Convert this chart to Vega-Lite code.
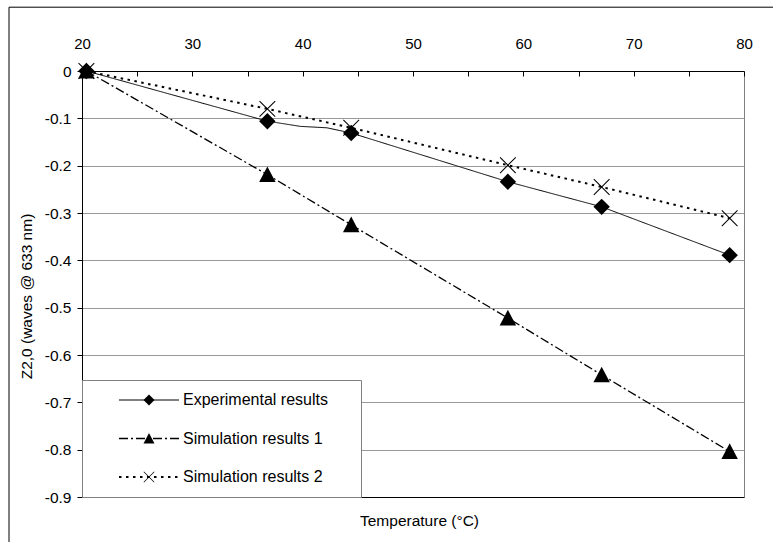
{
  "$schema": "https://vega.github.io/schema/vega-lite/v6.json",
  "autosize": "none",
  "width": 662,
  "height": 426,
  "padding": {"left": 82, "top": 71, "right": 29, "bottom": 45},
  "background": "white",
  "config": {"view": {"stroke": null}, "font": "Liberation Sans"},
  "datasets": {
    "markers": [
      {"series": "Experimental results", "temp": 20.4, "value": 0},
      {"series": "Experimental results", "temp": 36.8, "value": -0.106},
      {"series": "Experimental results", "temp": 44.4, "value": -0.131},
      {"series": "Experimental results", "temp": 58.6, "value": -0.234},
      {"series": "Experimental results", "temp": 67.1, "value": -0.287},
      {"series": "Experimental results", "temp": 78.7, "value": -0.389},
      {"series": "Simulation results 1", "temp": 20.4, "value": 0},
      {"series": "Simulation results 1", "temp": 36.8, "value": -0.219},
      {"series": "Simulation results 1", "temp": 44.4, "value": -0.325},
      {"series": "Simulation results 1", "temp": 58.6, "value": -0.522},
      {"series": "Simulation results 1", "temp": 67.1, "value": -0.642},
      {"series": "Simulation results 1", "temp": 78.7, "value": -0.804},
      {"series": "Simulation results 2", "temp": 20.4, "value": 0},
      {"series": "Simulation results 2", "temp": 36.8, "value": -0.080},
      {"series": "Simulation results 2", "temp": 44.4, "value": -0.120},
      {"series": "Simulation results 2", "temp": 58.6, "value": -0.199},
      {"series": "Simulation results 2", "temp": 67.1, "value": -0.245},
      {"series": "Simulation results 2", "temp": 78.7, "value": -0.311}
    ],
    "curves": [
      {"series": "Experimental results", "temp": 20.4, "value": 0},
      {"series": "Experimental results", "temp": 36.8, "value": -0.106},
      {"series": "Experimental results", "temp": 39.8, "value": -0.117},
      {"series": "Experimental results", "temp": 42.2, "value": -0.120},
      {"series": "Experimental results", "temp": 44.4, "value": -0.131},
      {"series": "Experimental results", "temp": 58.6, "value": -0.234},
      {"series": "Experimental results", "temp": 67.1, "value": -0.287},
      {"series": "Experimental results", "temp": 78.7, "value": -0.389},
      {"series": "Simulation results 1", "temp": 20.4, "value": 0},
      {"series": "Simulation results 1", "temp": 36.8, "value": -0.219},
      {"series": "Simulation results 1", "temp": 44.4, "value": -0.325},
      {"series": "Simulation results 1", "temp": 58.6, "value": -0.522},
      {"series": "Simulation results 1", "temp": 67.1, "value": -0.642},
      {"series": "Simulation results 1", "temp": 78.7, "value": -0.804},
      {"series": "Simulation results 2", "temp": 20.4, "value": 0},
      {"series": "Simulation results 2", "temp": 36.8, "value": -0.080},
      {"series": "Simulation results 2", "temp": 44.4, "value": -0.120},
      {"series": "Simulation results 2", "temp": 58.6, "value": -0.199},
      {"series": "Simulation results 2", "temp": 67.1, "value": -0.245},
      {"series": "Simulation results 2", "temp": 78.7, "value": -0.311}
    ]
  },
  "resolve": {"axis": {"x": "independent"}},
  "layer": [
    {
      "data": {"name": "curves"},
      "mark": {"type": "line", "color": "black", "clip": false},
      "encoding": {
        "x": {
          "field": "temp", "type": "quantitative",
          "scale": {"domain": [20, 80], "nice": false, "zero": false},
          "axis": {
            "orient": "top", "title": null,
            "values": [20, 25, 30, 35, 40, 45, 50, 55, 60, 65, 70, 75, 80],
            "labelExpr": "datum.value % 10 == 0 ? datum.label : ''",
            "labelFontSize": 15, "labelColor": "black", "labelFont": "Liberation Sans",
            "labelPadding": 25, "labelOverlap": false, "labelFlush": false,
            "tickSize": -5, "tickColor": "black", "domainColor": "black",
            "grid": true, "gridColor": "#808080",
            "gridOpacity": {"condition": {"test": "datum.value == 80", "value": 1}, "value": 0}
          }
        },
        "y": {
          "field": "value", "type": "quantitative",
          "scale": {"domain": [-0.9, 0], "nice": false, "zero": false},
          "axis": {
            "title": "Z2,0 (waves @ 633 nm)",
            "values": [0, -0.05, -0.1, -0.15, -0.2, -0.25, -0.3, -0.35, -0.4, -0.45, -0.5, -0.55, -0.6, -0.65, -0.7, -0.75, -0.8, -0.85, -0.9],
            "labelExpr": "abs(round(datum.value*100)) % 10 == 0 ? (datum.value == 0 ? '0' : '-' + format(abs(datum.value), '.1f')) : ''",
            "labelFontSize": 15.5, "labelColor": "black", "labelFont": "Liberation Sans",
            "labelPadding": 6, "labelOverlap": false, "labelFlush": false,
            "tickSize": 5, "tickColor": "black", "domainColor": "black",
            "grid": true, "gridColor": "#999999",
            "gridOpacity": {"condition": {"test": "abs(round(datum.value*100)) % 10 == 0 && datum.value < 0 && datum.value > -0.89", "value": 1}, "value": 0},
            "titleFontSize": 15.5, "titleFontWeight": "normal", "titleColor": "black", "titleFont": "Liberation Sans",
            "titlePadding": 10, "titleY": 225
          }
        },
        "strokeDash": {
          "field": "series", "type": "nominal",
          "scale": {"domain": ["Experimental results", "Simulation results 1", "Simulation results 2"], "range": [[1, 0], [9, 3, 2, 3], [2.5, 4.5]]},
          "legend": {
            "orient": "none", "legendX": 0, "legendY": 309,
            "title": "\u00a0", "titleOrient": "right", "titlePadding": 21, "titleFontSize": 16,
            "padding": 12, "strokeColor": "#808080", "fillColor": "white",
            "symbolType": "stroke", "symbolSize": 3600, "symbolStrokeColor": "black", "symbolStrokeWidth": 1,
            "symbolOffset": 24, "labelOffset": 3, "labelFontSize": 16, "labelColor": "black", "labelFont": "Liberation Sans",
            "clipHeight": 16, "rowPadding": 22.5, "labelLimit": 300
          }
        },
        "strokeWidth": {
          "field": "series", "type": "nominal",
          "scale": {"type": "ordinal", "domain": ["Experimental results", "Simulation results 1", "Simulation results 2"], "range": [1, 1.3, 2]},
          "legend": null
        }
      }
    },
    {
      "data": {"name": "markers"},
      "mark": {"type": "point", "filled": true, "fill": "black", "strokeWidth": 0, "size": 270, "opacity": 1, "clip": false},
      "encoding": {
        "x": {
          "field": "temp", "type": "quantitative",
          "axis": {
            "orient": "bottom", "title": "Temperature (°C)", "labels": false, "ticks": false,
            "domain": true, "domainColor": "black", "grid": false,
            "titleFontSize": 15.5, "titleFontWeight": "normal", "titleColor": "black", "titleFont": "Liberation Sans",
            "titlePadding": 16, "titleX": 337
          }
        },
        "y": {"field": "value", "type": "quantitative"},
        "shape": {
          "field": "series", "type": "nominal",
          "scale": {"range": ["M0,-1L1,0L0,1L-1,0Z", "M0,-1L1,0.9L-1,0.9Z", "M-1,-0.91L-0.91,-1L1,0.91L0.91,1Z M-1,0.91L0.91,-1L1,-0.91L-0.91,1Z"]},
          "legend": {
            "orient": "none", "legendX": 0, "legendY": 309, "title": null,
            "padding": 12, "symbolSize": 120, "symbolFillColor": "black", "symbolStrokeWidth": 0,
            "symbolOffset": 47, "labelFontSize": 16, "labelExpr": "''", "labelOpacity": 0, "clipHeight": 16, "rowPadding": 22.5,
            "encode": {"symbols": {"fill": {"value": "black"}, "opacity": {"value": 1}}}
          }
        }
      }
    },
    {
      "data": {"name": "markers"},
      "mark": {"type": "point", "opacity": 0},
      "encoding": {
        "x": {"field": "temp", "type": "quantitative", "axis": null},
        "y": {"field": "value", "type": "quantitative"},
        "size": {
          "field": "value", "type": "quantitative",
          "legend": {
            "orient": "none", "legendX": -73.5, "legendY": -64.3, "title": null,
            "padding": 400, "strokeColor": "black", "symbolOpacity": 0, "labelOpacity": 0, "labelExpr": "''"
          }
        }
      }
    }
  ]
}
